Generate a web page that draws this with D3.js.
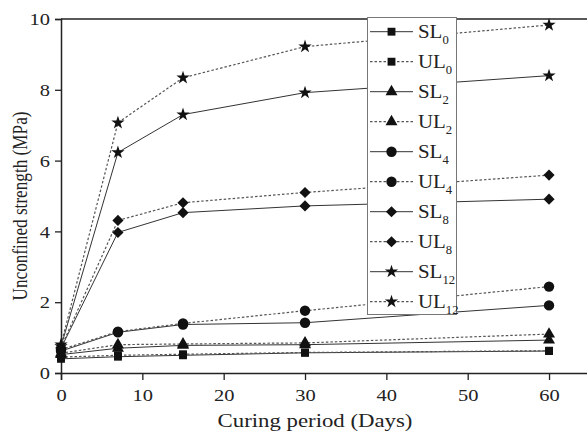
<!DOCTYPE html>
<html>
<head>
<meta charset="utf-8">
<script src="https://cdn.jsdelivr.net/npm/d3@7"></script>
<style>
  html, body { margin: 0; padding: 0; background: #fff; }
  svg { display: block; font-family: "Liberation Serif", "Times New Roman", serif; }
</style>
</head>
<body>
<svg id="chart" width="587" height="434"></svg>
<script>
// Curing period (days) at which specimens were tested
const days = [0, 7, 15, 30, 60];

// Unconfined compressive strength (MPa) per mix
const SL0  = [0.40, 0.46, 0.50, 0.57, 0.62];
const UL0  = [0.45, 0.50, 0.53, 0.58, 0.63];
const SL2  = [0.52, 0.70, 0.78, 0.80, 0.93];
const UL2  = [0.56, 0.80, 0.82, 0.85, 1.10];
const SL4  = [0.62, 1.15, 1.37, 1.42, 1.91];
const UL4  = [0.66, 1.17, 1.40, 1.76, 2.44];
const SL8  = [0.70, 3.97, 4.53, 4.72, 4.91];
const UL8  = [0.72, 4.31, 4.81, 5.10, 5.59];
const SL12 = [0.75, 6.23, 7.30, 7.92, 8.40];
const UL12 = [0.80, 7.07, 8.34, 9.22, 9.83];

// Legend labels: prefix + subscript
const prefixes = ["SL", "UL", "SL", "UL", "SL", "UL", "SL", "UL", "SL", "UL"];
const subs     = ["0", "0", "2", "2", "4", "4", "8", "8", "12", "12"];

const xTicks = [0, 10, 20, 30, 40, 50, 60];
const yTicks = [0, 2, 4, 6, 8, 10];

const seriesValues = [SL0, UL0, SL2, UL2, SL4, UL4, SL8, UL8, SL12, UL12];
const markerKinds = ["square", "square", "triangle", "triangle", "circle", "circle",
                     "diamond", "diamond", "star", "star"];

// glyphs are drawn slightly wide, as in the printed figure
const SX = 1.17;

const svg = d3.select("#chart");

const x = d3.scaleLinear().domain([0, 65]).range([61, 589.7]);
const y = d3.scaleLinear().domain([0, 10]).range([373, 19]);

// frame: top border of the plot area
svg.append("line")
  .attr("x1", x(0)).attr("x2", 587)
  .attr("y1", y(10)).attr("y2", y(10))
  .attr("stroke", "#222").attr("stroke-width", 1.5);

// x axis
const gx = svg.append("g").attr("transform", `translate(0,${y(0)})`);
gx.call(d3.axisBottom(x).tickValues(d3.range(5, 66, 10)).tickSize(4).tickFormat(""));
gx.call(d3.axisBottom(x).tickValues(xTicks).tickSize(7).tickPadding(9).tickFormat(d3.format("d")));
gx.selectAll(".domain").attr("stroke", "#222").attr("stroke-width", 1.5);
gx.selectAll(".tick line").attr("stroke", "#222").attr("stroke-width", 1.3);
gx.selectAll("text").attr("font-size", 17.5).attr("fill", "#222")
  .attr("font-family", "Liberation Serif")
  .attr("transform", `scale(${SX},1)`);

// y axis
const gy = svg.append("g").attr("transform", `translate(${x(0)},0)`);
gy.call(d3.axisLeft(y).tickValues(d3.range(1, 10, 2)).tickSize(4).tickFormat(""));
gy.call(d3.axisLeft(y).tickValues(yTicks).tickSize(6).tickPadding(5).tickFormat(d3.format("d")));
gy.selectAll(".domain").attr("stroke", "#222").attr("stroke-width", 1.5);
gy.selectAll(".tick line").attr("stroke", "#222").attr("stroke-width", 1.3);
gy.selectAll("text").attr("font-size", 17.5).attr("fill", "#222")
  .attr("font-family", "Liberation Serif")
  .attr("x", 0)
  .attr("transform", `translate(-11,0) scale(${SX},1)`);

// axis titles
svg.append("text")
  .attr("transform", `translate(315,427) scale(1.2,1)`)
  .attr("text-anchor", "middle")
  .attr("font-size", 19).attr("fill", "#222")
  .text("Curing period (Days)");

svg.append("text")
  .attr("transform", `translate(27,206) scale(${SX},1) rotate(-90)`)
  .attr("text-anchor", "middle")
  .attr("font-size", 17.2).attr("fill", "#222")
  .text("Unconfined strength (MPa)");

// marker factory
function marker(sel, kind) {
  if (kind === "circle") {
    sel.append("circle").attr("r", 5.2).attr("fill", "#111");
  } else if (kind === "square") {
    sel.append("path").attr("d", d3.symbol(d3.symbolSquare, 62)()).attr("fill", "#111");
  } else if (kind === "triangle") {
    sel.append("path").attr("d", d3.symbol(d3.symbolTriangle, 62)()).attr("fill", "#111");
  } else if (kind === "diamond") {
    sel.append("path").attr("d", d3.symbol(d3.symbolSquare, 62)())
      .attr("transform", "rotate(45)").attr("fill", "#111");
  } else if (kind === "star") {
    sel.append("path").attr("d", d3.symbol(d3.symbolStar, 55)()).attr("fill", "#111");
  }
}

const line = d3.line().x((d, i) => x(days[i])).y(d => y(d));

function lineStyle(sel, dashed) {
  sel.attr("fill", "none")
    .attr("stroke", dashed ? "#555" : "#333")
    .attr("stroke-width", dashed ? 1.2 : 1)
    .attr("stroke-dasharray", dashed ? "2.5,2" : null);
}

// series lines and markers
seriesValues.forEach((vals, k) => {
  const dashed = prefixes[k] === "UL";
  svg.append("path").datum(vals).attr("d", line).call(lineStyle, dashed);
});
seriesValues.forEach((vals, k) => {
  vals.forEach((v, i) => {
    const g = svg.append("g").attr("transform", `translate(${x(days[i])},${y(v)})`);
    marker(g, markerKinds[k]);
  });
});

// legend
const legend = svg.append("g");
legend.append("rect")
  .attr("x", 367.5).attr("y", 17.5).attr("width", 89).attr("height", 297)
  .attr("fill", "#fff").attr("stroke", "#777").attr("stroke-width", 1);

prefixes.forEach((p, k) => {
  const cy = 31.7 + k * 30;
  const dashed = p === "UL";
  legend.append("line")
    .attr("x1", 370).attr("x2", 413).attr("y1", cy).attr("y2", cy)
    .call(lineStyle, dashed);
  const g = legend.append("g").attr("transform", `translate(391.5,${cy})`);
  marker(g, markerKinds[k]);
  const t = legend.append("text")
    .attr("transform", `translate(418,${cy + 6.5}) scale(1.1,1)`)
    .attr("font-size", 19).attr("fill", "#222");
  t.append("tspan").text(p);
  t.append("tspan").attr("font-size", 11.5).attr("dy", 6).text(subs[k]);
});
</script>
</body>
</html>
